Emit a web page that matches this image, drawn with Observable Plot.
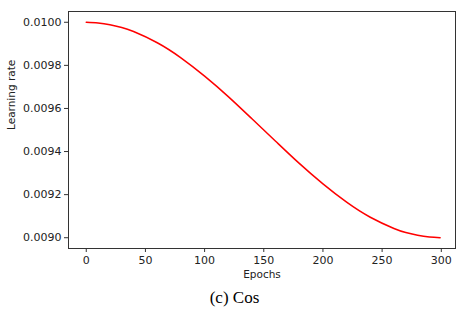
<!DOCTYPE html>
<html>
<head>
<meta charset="utf-8">
<script src="https://cdn.jsdelivr.net/npm/d3@7"></script>
<script src="https://cdn.jsdelivr.net/npm/@observablehq/plot@0.6"></script>
<style>
  html, body { margin: 0; padding: 0; background: #fff; }
  #wrap { width: 464px; }
  #caption { width: 464px; height: 26px; line-height: 26px; text-align: center;
    font-family: "Liberation Serif", "Times New Roman", serif; font-size: 17px; color: #000;
    padding-left: 5px; box-sizing: border-box; }
</style>
</head>
<body>
<div id="wrap"></div>
<div id="caption">(c) Cos</div>
<script>
const epochs = [0, 10, 20, 30, 40, 60, 80, 100, 120, 140, 160, 180, 200, 220, 240, 260, 270, 280, 290, 299];
const learningRate = [0.010000, 0.009997, 0.009989, 0.009976, 0.009957, 0.009905, 0.009835, 0.009750,
  0.009655, 0.009552, 0.009448, 0.009345, 0.009250, 0.009165, 0.009095, 0.009043, 0.009024, 0.009011,
  0.009003, 0.009000];
const xTicks = [0, 50, 100, 150, 200, 250, 300];
const yTicks = [0.0090, 0.0092, 0.0094, 0.0096, 0.0098, 0.0100];
const xLabel = "Epochs";
const yLabel = "Learning rate";

const data = epochs.map((e, i) => ({epoch: e, lr: learningRate[i]}));

const chart = Plot.plot({
  width: 464,
  height: 285,
  marginLeft: 68,
  marginRight: 9,
  marginTop: 11,
  marginBottom: 37,
  style: {fontFamily: "DejaVu Sans", fontSize: "11px", color: "#222", background: "#fff"},
  x: {domain: [-15, 312], ticks: xTicks},
  y: {domain: [0.00895, 0.01005], ticks: yTicks},
  marks: [
    Plot.line(data, {x: "epoch", y: "lr", stroke: "#ff0000", strokeWidth: 1.5, curve: "natural"}),
    Plot.frame({stroke: "#333", strokeWidth: 1}),
    Plot.axisX({ticks: xTicks, tickSize: 4, tickPadding: 4, label: null, stroke: "#333", tickFormat: d3.format("d")}),
    Plot.axisY({ticks: yTicks, tickSize: 4, tickPadding: 3, label: null, stroke: "#333", tickFormat: d3.format(".4f")}),
    Plot.text([xLabel], {frameAnchor: "bottom", dy: 29, text: d => d, fontSize: 10.5, fill: "#222"}),
    Plot.text([yLabel], {frameAnchor: "left", dx: -57, rotate: -90, text: d => d, fontSize: 10.5, fill: "#222"})
  ]
});
document.getElementById("wrap").appendChild(chart);
</script>
</body>
</html>
